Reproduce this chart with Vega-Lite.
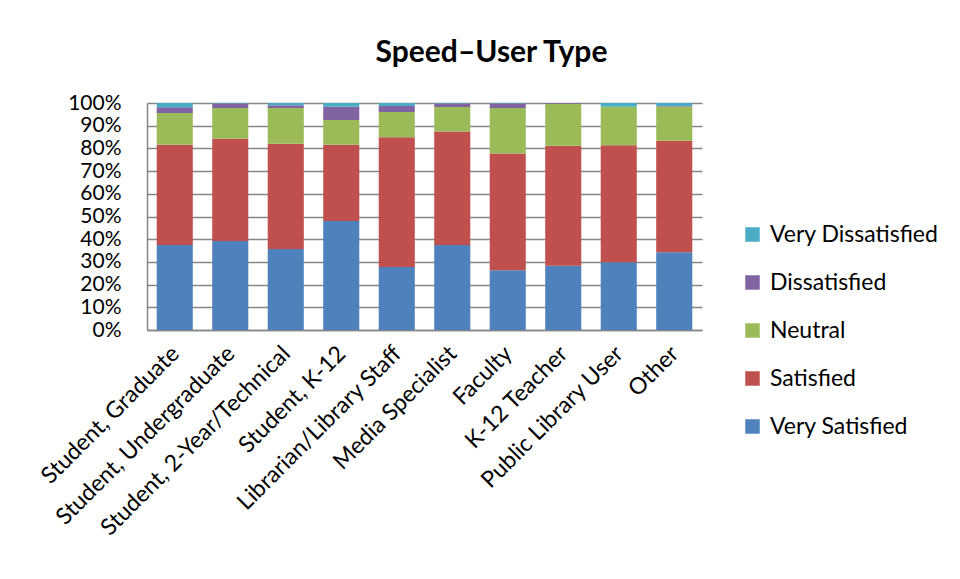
{
  "$schema": "https://vega.github.io/schema/vega-lite/v6.json",
  "width": 555,
  "height": 227,
  "autosize": {"type": "none"},
  "padding": {"left": 147, "top": 103, "right": 258, "bottom": 249},
  "background": "white",
  "title": {"text": "Speed\u2013User Type", "fontSize": 30, "font": "Lato", "fontWeight": "bold", "color": "black", "anchor": "middle", "dx": 67, "offset": 24},
  "data": {"values": [
    {"userType": "Student, Graduate", "rating": "Very Satisfied", "pct": 37.4},
    {"userType": "Student, Graduate", "rating": "Satisfied", "pct": 44.2},
    {"userType": "Student, Graduate", "rating": "Neutral", "pct": 14.0},
    {"userType": "Student, Graduate", "rating": "Dissatisfied", "pct": 2.5},
    {"userType": "Student, Graduate", "rating": "Very Dissatisfied", "pct": 1.9},
    {"userType": "Student, Undergraduate", "rating": "Very Satisfied", "pct": 39.2},
    {"userType": "Student, Undergraduate", "rating": "Satisfied", "pct": 45.1},
    {"userType": "Student, Undergraduate", "rating": "Neutral", "pct": 13.5},
    {"userType": "Student, Undergraduate", "rating": "Dissatisfied", "pct": 2.0},
    {"userType": "Student, Undergraduate", "rating": "Very Dissatisfied", "pct": 0.2},
    {"userType": "Student, 2-Year/Technical", "rating": "Very Satisfied", "pct": 35.7},
    {"userType": "Student, 2-Year/Technical", "rating": "Satisfied", "pct": 46.4},
    {"userType": "Student, 2-Year/Technical", "rating": "Neutral", "pct": 15.7},
    {"userType": "Student, 2-Year/Technical", "rating": "Dissatisfied", "pct": 1.2},
    {"userType": "Student, 2-Year/Technical", "rating": "Very Dissatisfied", "pct": 1.0},
    {"userType": "Student, K-12", "rating": "Very Satisfied", "pct": 48.0},
    {"userType": "Student, K-12", "rating": "Satisfied", "pct": 33.6},
    {"userType": "Student, K-12", "rating": "Neutral", "pct": 10.9},
    {"userType": "Student, K-12", "rating": "Dissatisfied", "pct": 5.9},
    {"userType": "Student, K-12", "rating": "Very Dissatisfied", "pct": 1.6},
    {"userType": "Librarian/Library Staff", "rating": "Very Satisfied", "pct": 27.8},
    {"userType": "Librarian/Library Staff", "rating": "Satisfied", "pct": 57.1},
    {"userType": "Librarian/Library Staff", "rating": "Neutral", "pct": 11.1},
    {"userType": "Librarian/Library Staff", "rating": "Dissatisfied", "pct": 2.7},
    {"userType": "Librarian/Library Staff", "rating": "Very Dissatisfied", "pct": 1.3},
    {"userType": "Media Specialist", "rating": "Very Satisfied", "pct": 37.4},
    {"userType": "Media Specialist", "rating": "Satisfied", "pct": 50.1},
    {"userType": "Media Specialist", "rating": "Neutral", "pct": 10.7},
    {"userType": "Media Specialist", "rating": "Dissatisfied", "pct": 1.6},
    {"userType": "Media Specialist", "rating": "Very Dissatisfied", "pct": 0.2},
    {"userType": "Faculty", "rating": "Very Satisfied", "pct": 26.3},
    {"userType": "Faculty", "rating": "Satisfied", "pct": 51.5},
    {"userType": "Faculty", "rating": "Neutral", "pct": 20.0},
    {"userType": "Faculty", "rating": "Dissatisfied", "pct": 2.0},
    {"userType": "Faculty", "rating": "Very Dissatisfied", "pct": 0.2},
    {"userType": "K-12 Teacher", "rating": "Very Satisfied", "pct": 28.3},
    {"userType": "K-12 Teacher", "rating": "Satisfied", "pct": 52.9},
    {"userType": "K-12 Teacher", "rating": "Neutral", "pct": 18.5},
    {"userType": "K-12 Teacher", "rating": "Dissatisfied", "pct": 0.3},
    {"userType": "K-12 Teacher", "rating": "Very Dissatisfied", "pct": 0.0},
    {"userType": "Public Library User", "rating": "Very Satisfied", "pct": 29.8},
    {"userType": "Public Library User", "rating": "Satisfied", "pct": 51.6},
    {"userType": "Public Library User", "rating": "Neutral", "pct": 17.0},
    {"userType": "Public Library User", "rating": "Dissatisfied", "pct": 0.0},
    {"userType": "Public Library User", "rating": "Very Dissatisfied", "pct": 1.6},
    {"userType": "Other", "rating": "Very Satisfied", "pct": 34.2},
    {"userType": "Other", "rating": "Satisfied", "pct": 49.2},
    {"userType": "Other", "rating": "Neutral", "pct": 15.1},
    {"userType": "Other", "rating": "Dissatisfied", "pct": 0.2},
    {"userType": "Other", "rating": "Very Dissatisfied", "pct": 1.3}
  ]},
  "transform": [
    {"calculate": "indexof(['Very Satisfied','Satisfied','Neutral','Dissatisfied','Very Dissatisfied'], datum.rating)", "as": "rank"}
  ],
  "mark": {"type": "bar"},
  "encoding": {
    "x": {
      "field": "userType", "type": "nominal", "sort": null,
      "scale": {"paddingInner": 0.35, "paddingOuter": 0.175},
      "axis": {"title": null, "labelAngle": -45, "labelAlign": "right", "labelBaseline": "top", "labelFontSize": 23, "labelFont": "Lato", "labelColor": "black", "ticks": false, "domainColor": "#868686", "domainWidth": 1.5, "labelPadding": 12, "labelOffset": -7, "labelLimit": 400, "labelOverlap": false}
    },
    "y": {
      "field": "pct", "type": "quantitative", "stack": "normalize",
      "scale": {"domain": [0, 1]},
      "axis": {"title": null, "format": ".0%", "values": [0, 0.1, 0.2, 0.3, 0.4, 0.5, 0.6, 0.7, 0.8, 0.9, 1], "grid": true, "gridColor": "#868686", "gridWidth": 1.5, "domainColor": "#868686", "domainWidth": 1.5, "ticks": false, "labelFontSize": 21, "labelFont": "Lato", "labelColor": "black", "labelPadding": 26, "labelOverlap": false, "labelBound": false}
    },
    "color": {
      "field": "rating", "type": "nominal",
      "scale": {"domain": ["Very Dissatisfied", "Dissatisfied", "Neutral", "Satisfied", "Very Satisfied"], "range": ["#4BACC6", "#8064A2", "#9BBB59", "#C0504D", "#4F81BD"]},
      "legend": {"title": null, "orient": "none", "legendX": 594, "legendY": 120, "symbolType": "square", "symbolSize": 210, "symbolStrokeWidth": 0, "labelFontSize": 23, "labelFont": "Lato", "labelColor": "black", "rowPadding": 24, "labelOffset": 6, "labelLimit": 400}
    },
    "order": {"field": "rank", "type": "quantitative"}
  },
  "config": {"view": {"stroke": null}}
}
